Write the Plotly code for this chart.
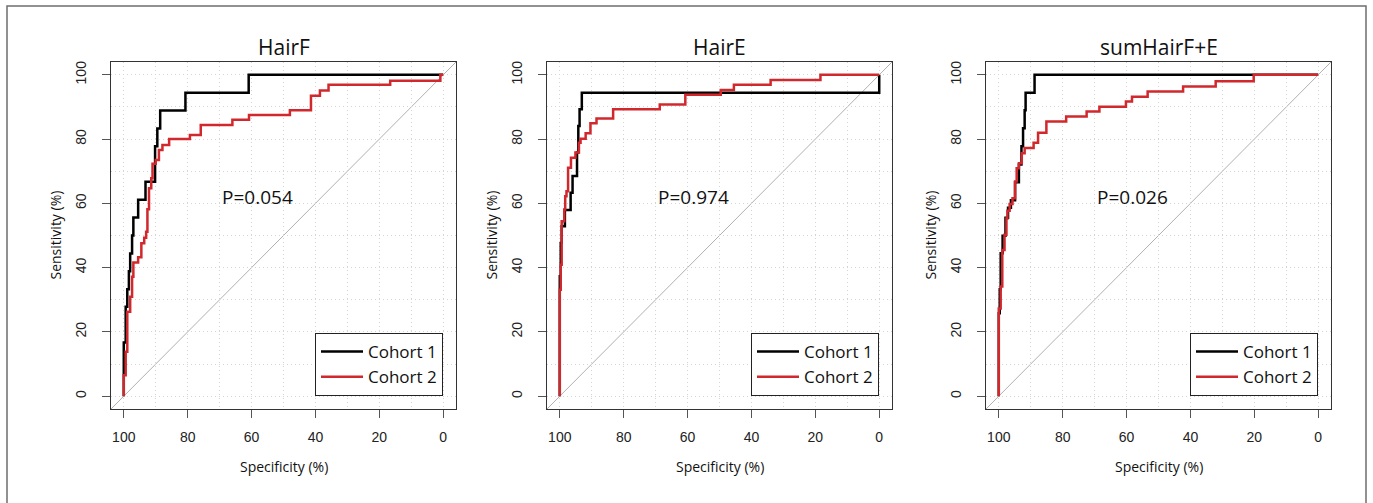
import plotly.graph_objects as go

W, H = 1373, 503

panel_titles = ["HairF", "HairE", "sumHairF+E"]
p_values = ["P=0.054", "P=0.974", "P=0.026"]
cohort_names = ["Cohort 1", "Cohort 2"]
cohort_colors = ["#000000", "#D0282D"]

tick_vals = [0, 20, 40, 60, 80, 100]
tick_text = ["0", "20", "40", "60", "80", "100"]

# ROC step corners (specificity %, sensitivity %), drawn with 'vh' steps
hairf_c1_spec = [100, 99.4, 98.9, 98.4, 98.0, 97.4, 97.0, 95.5, 93.2, 90.2, 89.5, 88.6, 80.7, 60.9, 0]
hairf_c1_sens = [0, 16.7, 27.8, 33.3, 38.9, 44.4, 50.0, 55.6, 61.1, 66.7, 77.8, 83.3, 88.9, 94.4, 100]
hairf_c2_spec = [100, 99.4, 98.9, 98.0, 97.4, 97.0, 95.5, 94.5, 93.6, 93.0, 92.6, 92.1, 91.4, 91.0, 90.0,
                 89.0, 87.9, 85.8, 79.3, 75.9, 66.0, 60.8, 48.0, 41.4, 38.6, 35.9, 16.6, 0.9, 0]
hairf_c2_sens = [0, 6.5, 13.8, 26.3, 30.9, 37.2, 41.6, 43.2, 47.6, 49.3, 51.2, 58.2, 64.7, 67.8, 72.3,
                 73.5, 76.6, 78.2, 80.0, 81.3, 84.4, 86.0, 87.5, 89.0, 93.5, 95.1, 96.9, 98.2, 100]

haire_c1_spec = [100, 99.7, 99.4, 98.4, 96.6, 96.0, 94.6, 94.2, 93.8, 93.1, 0, 0]
haire_c1_sens = [0, 37.3, 47.7, 52.9, 57.9, 63.3, 68.5, 75.8, 84.1, 89.3, 94.4, 100]
haire_c2_spec = [100, 99.7, 99.4, 98.6, 98.3, 97.9, 97.4, 96.5, 95.1, 94.0, 93.5, 91.9, 90.4, 88.5,
                 83.3, 68.7, 60.7, 49.6, 45.5, 34.0, 18.4, 0]
haire_c2_sens = [0, 33.1, 40.9, 54.4, 58.1, 62.2, 63.8, 71.1, 74.2, 75.8, 78.9, 80.1, 81.8, 84.9,
                 86.4, 89.3, 90.8, 93.8, 95.3, 96.9, 98.4, 100]

sum_c1_spec = [100, 99.7, 99.4, 98.8, 97.9, 97.1, 96.2, 94.9, 93.7, 92.9, 92.4, 91.9, 91.6, 88.8, 0]
sum_c1_sens = [0, 25.8, 33.3, 44.5, 49.9, 55.5, 58.6, 61.0, 66.6, 72.1, 77.8, 83.4, 89.0, 94.4, 100]
sum_c2_spec = [100, 99.4, 98.9, 98.2, 97.6, 97.3, 96.6, 95.7, 94.9, 94.4, 93.7, 92.8, 91.9, 89.1, 87.7,
               85.1, 78.9, 72.5, 68.5, 60.2, 58.3, 53.4, 42.3, 32.1, 20.2, 0]
sum_c2_sens = [0, 27.3, 34.1, 45.5, 50.2, 55.3, 57.7, 59.8, 61.6, 66.8, 70.9, 72.5, 75.6, 77.2, 78.9,
               82.0, 85.5, 87.0, 88.6, 90.1, 91.7, 93.2, 94.8, 96.4, 98.0, 100]

panels = [
    [(hairf_c1_spec, hairf_c1_sens), (hairf_c2_spec, hairf_c2_sens)],
    [(haire_c1_spec, haire_c1_sens), (haire_c2_spec, haire_c2_sens)],
    [(sum_c1_spec, sum_c1_sens), (sum_c2_spec, sum_c2_sens)],
]

# layout geometry (pixels)
box_left = [111, 547, 986]
box_w = 345
box_top, box_bottom = 62, 409

def px(x):
    return x / W

def py(y):
    return 1 - y / H

TXT_FONT = "Open Sans, Noto Sans, sans-serif"
TICK_FONT = "Liberation Sans, Arial, sans-serif"

fig = go.Figure()
layout = dict(
    width=W, height=H,
    margin=dict(l=0, r=0, t=0, b=0),
    paper_bgcolor="white", plot_bgcolor="white",
    showlegend=True,
)
annotations = []
shapes = []

GRID = dict(showgrid=True, gridcolor="#d4d4d4", griddash="1px,3px", gridwidth=1)

for i in range(3):
    xa = "x" if i == 0 else f"x{i+1}"
    ya = "y" if i == 0 else f"y{i+1}"
    lg = "legend" if i == 0 else f"legend{i+1}"
    for j, (sp, se) in enumerate(panels[i]):
        fig.add_trace(go.Scatter(
            x=sp, y=se, mode="lines", line_shape="vh",
            line=dict(color=cohort_colors[j], width=2.5),
            name=cohort_names[j], xaxis=xa, yaxis=ya, legend=lg,
            hoverinfo="skip",
        ))
    d0 = px(box_left[i])
    d1 = px(box_left[i] + box_w)
    axis_common = dict(
        showline=True, mirror=True, linecolor="#333333", linewidth=1.3,
        ticks="outside", ticklen=8, tickwidth=1, tickcolor="#555555",
        tickmode="array", tickvals=tick_vals, ticktext=tick_text,
        tickfont=dict(family=TICK_FONT, size=14, color="#222222"),
        zeroline=False, fixedrange=True,
        minor=dict(tickvals=[10, 30, 50, 70, 90], ticks="", **GRID),
        **GRID,
    )
    layout["xaxis" if i == 0 else f"xaxis{i+1}"] = dict(
        axis_common, domain=[d0, d1], range=[104, -4], anchor=ya,
        ticklabelstandoff=7,
    )
    layout["yaxis" if i == 0 else f"yaxis{i+1}"] = dict(
        axis_common, domain=[py(box_bottom), py(box_top)], range=[-4, 104], anchor=xa,
        tickangle=-90, ticklabelstandoff=10,
    )
    # legend inside bottom-right
    layout[lg] = dict(
        x=px(box_left[i] + box_w - 13), xanchor="right",
        y=py(box_bottom - 13), yanchor="bottom",
        bgcolor="white", bordercolor="#222222", borderwidth=1,
        font=dict(family=TXT_FONT, size=17, color="#111111"),
        tracegroupgap=0, itemwidth=42,
    )
    # diagonal reference line
    shapes.append(dict(type="line", xref=xa, yref=ya, x0=104, y0=-4, x1=-4, y1=104,
                       line=dict(color="#b0b0b0", width=1), layer="below"))
    cx = (d0 + d1) / 2
    annotations.append(dict(text=panel_titles[i], x=cx, y=py(47), xref="paper", yref="paper",
                            showarrow=False, xanchor="center", yanchor="middle",
                            font=dict(family=TXT_FONT, size=21, color="#111111")))
    annotations.append(dict(text="Specificity (%)", x=cx, y=py(466), xref="paper", yref="paper",
                            showarrow=False, xanchor="center", yanchor="middle",
                            font=dict(family=TXT_FONT, size=14, color="#111111")))
    annotations.append(dict(text="Sensitivity (%)", x=px(box_left[i] - 56), y=(py(box_top) + py(box_bottom)) / 2,
                            xref="paper", yref="paper", textangle=-90,
                            showarrow=False, xanchor="center", yanchor="middle",
                            font=dict(family=TXT_FONT, size=14, color="#111111")))
    annotations.append(dict(text=p_values[i], x=58, y=62, xref=xa, yref=ya,
                            showarrow=False, xanchor="center", yanchor="middle",
                            font=dict(family=TXT_FONT, size=19, color="#111111")))

# outer frame
shapes.append(dict(type="rect", xref="paper", yref="paper", x0=px(7), x1=px(1366), y0=-0.1, y1=py(6),
                   line=dict(color="#6e6e6e", width=1.5), fillcolor="rgba(0,0,0,0)"))

layout["annotations"] = annotations
layout["shapes"] = shapes
fig.update_layout(**layout)
fig.write_html("out.html", config={"displayModeBar": False},
               post_script="document.body.style.margin='0';document.body.style.overflow='hidden';")
